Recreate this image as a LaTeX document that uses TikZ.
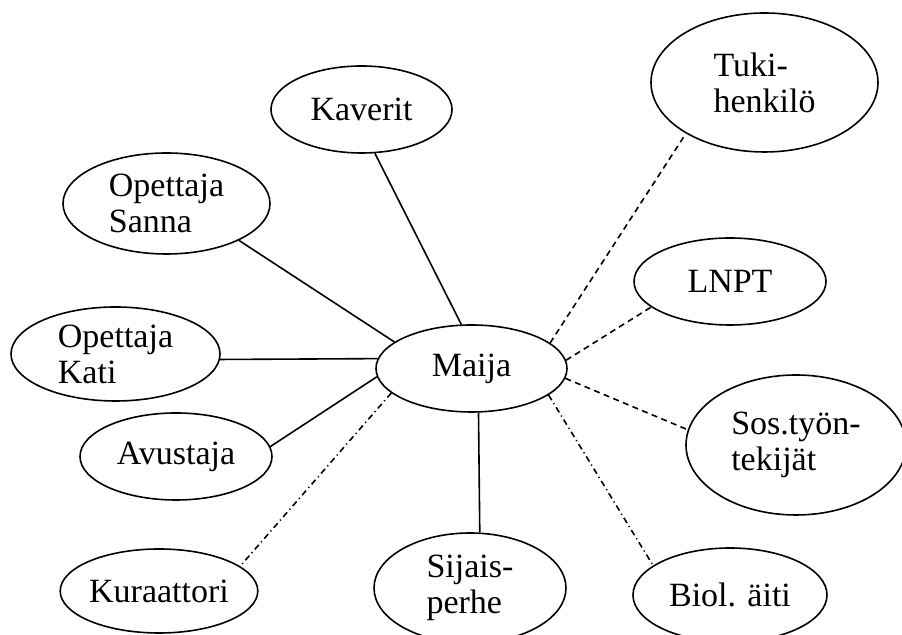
\documentclass[tikz,border=0pt]{standalone}
\usepackage{fontspec}
\setmainfont{Liberation Serif}
\usetikzlibrary{shapes.geometric}

\begin{document}
\begin{tikzpicture} [x=0.5pt, y=-0.5pt, line width=0.8pt,
  person/.style={ellipse, draw, inner sep=0pt, align=left,
    font=\fontsize{17}{18}\selectfont},
  close/.style={solid},
  weak/.style={dash pattern=on 3pt off 2.2pt},
  loose/.style={dash pattern=on 3pt off 1.8pt on 0.6pt off 1.8pt}]

\useasboundingbox (0,0) rectangle (902,635);

\node (maija) [person, minimum width=95.5pt, minimum height=43.5pt] at (471.5,368.5) {Maija};

% left side
\node (kaverit) [person, minimum width=90.5pt, minimum height=43.5pt] at (361.5,109.5) {Kaverit};
\node (sanna) [person, minimum width=103.5pt, minimum height=50.5pt] at (166.5,203.5) {Opettaja\\Sanna};
\node (kati) [person, minimum width=104.5pt, minimum height=47pt] at (115.5,354) {Opettaja\\Kati};
\node (avustaja) [person, minimum width=96pt, minimum height=43.5pt] at (176,456.5) {Avustaja};
\node (kuraattori) [person, minimum width=96pt, minimum height=42pt] at (159,591) {Kuraattori};
\node (sijais) [person, minimum width=96pt, minimum height=55pt] at (470,588) {Sijais-\\perhe};

% right side
\node (tuki) [person, minimum width=113.5pt, minimum height=69.5pt] at (764.5,82.5) {Tuki-\\henkilö};
\node (lnpt) [person, minimum width=96pt, minimum height=43.5pt] at (730,281.5) {LNPT};
\node (sos) [person, minimum width=110pt, minimum height=70pt] at (796,445) {Sos.työn-\\tekijät};
\node (biol) [person, minimum width=97pt, minimum height=47pt] at (730,595) {Biol. äiti};

\path [close]
  (maija.103) edge (kaverit.287);
\path [close]
  (maija.161) edge (sanna.333.6);
\path [close]
  (maija.174.9) edge (kati.-3.3);
\path [close]
  (maija.185.1) edge (avustaja.6.8);
\path [close]
  (maija.279.8) edge (sijais.80.7);

\path [loose]
  (maija.197.8) edge (kuraattori.17.6);
\path [loose]
  (maija.341.4) edge (biol.159);

\path [weak]
  (maija.18.6) edge (tuki.213.8);
\path [weak]
  (maija.5.7) edge (lnpt.198.5);
\path [weak]
  (maija.354.3) edge (sos.172);

\end{tikzpicture}
\end{document}
